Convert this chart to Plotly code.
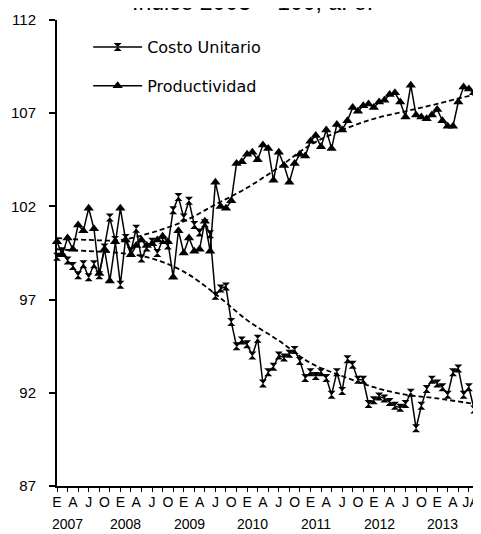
import plotly.graph_objects as go

# ---- data (monthly, Jan 2007 - Aug 2013) ----
productividad = [
    100.1, 99.4, 100.3, 99.7, 101.0, 100.7, 101.9, 100.8, 98.4, 99.7, 98.0, 100.1,
    101.9, 100.2, 99.4, 99.9, 100.2, 99.9, 100.0, 100.2, 100.4, 100.1, 98.2, 100.7,
    99.5, 100.3, 99.6, 99.7, 101.2, 99.6, 103.3, 102.0, 101.9, 102.3, 104.3, 104.4,
    104.8, 104.9, 104.5, 105.3, 105.1, 103.4, 104.9, 104.2, 103.3, 104.3, 104.8, 104.7,
    105.5, 105.8, 105.2, 106.1, 105.1, 106.4, 106.1, 106.6, 107.3, 107.1, 107.4, 107.5,
    107.3, 107.6, 107.7, 108.0, 108.1, 107.6, 106.8, 108.5, 106.9, 106.8, 106.7, 106.9,
    107.2, 106.6, 106.3, 106.3, 107.6, 108.4, 108.3, 108.1,
]
costo_unitario = [
    99.3, 99.6, 99.1, 98.8, 98.3, 98.9, 98.2, 98.9, 98.3, 99.8, 101.4, 100.2,
    97.8, 100.3, 99.6, 100.8, 99.2, 99.8, 100.1, 99.5, 100.2, 99.9, 101.8, 102.5,
    101.4, 102.3, 101.0, 100.6, 101.1, 100.5, 97.2, 97.6, 97.7, 95.8, 94.5, 94.8,
    94.6, 94.0, 94.9, 92.5, 93.1, 93.4, 94.0, 93.9, 94.1, 94.3, 93.7, 92.8,
    93.1, 92.9, 93.1, 92.8, 91.9, 93.1, 92.1, 93.8, 93.5, 92.7, 92.7, 91.4,
    91.6, 91.8, 91.7, 91.5, 91.3, 91.2, 91.4, 92.0, 90.1, 91.3, 92.2, 92.7,
    92.5, 92.3, 91.9, 93.1, 93.3, 91.9, 92.3, 91.1,
]
# trend (dashed) read at selected months
trend_months = [0, 6, 12, 18, 24, 30, 36, 42, 48, 54, 60, 66, 72, 79]
trend_productividad = [100.3, 100.2, 100.2, 100.6, 101.2, 102.1, 103.0, 104.1, 105.3, 106.1, 106.7, 107.1, 107.5, 108.0]
trend_costo = [99.7, 99.6, 99.5, 99.2, 98.5, 97.3, 95.9, 94.8, 93.6, 92.9, 92.3, 91.9, 91.7, 91.4]

# x tick labels (quarters) and years
tick_months = [0, 3, 6, 9, 12, 15, 18, 21, 24, 27, 30, 33, 36, 39, 42, 45,
               48, 51, 54, 57, 60, 63, 66, 69, 72, 75, 77.4, 79]
tick_labels = ["E", "A", "J", "O"] * 6 + ["E", "A", "J", "A"]
years = ["2007", "2008", "2009", "2010", "2011", "2012", "2013"]
year_pos = [2, 13, 25, 37, 49, 61, 73]

y_ticks = [87, 92, 97, 102, 107, 112]

months = list(range(len(productividad)))
FONT = "Liberation Sans, Arial, sans-serif"

fig = go.Figure()
fig.add_trace(go.Scatter(
    x=months, y=costo_unitario, mode="lines+markers", name="Costo Unitario",
    line=dict(color="black", width=1.5),
    marker=dict(symbol="hourglass", size=8, color="black"),
    cliponaxis=False, legendgroup="c",
))
fig.add_trace(go.Scatter(
    x=months, y=productividad, mode="lines+markers", name="Productividad",
    line=dict(color="black", width=1.5),
    marker=dict(symbol="triangle-up", size=9, color="black"),
    cliponaxis=False, legendgroup="p",
))
fig.add_trace(go.Scatter(
    x=trend_months, y=trend_productividad, mode="lines", showlegend=False,
    line=dict(color="black", width=1.8, dash="5px,3px", shape="spline"),
))
fig.add_trace(go.Scatter(
    x=trend_months, y=trend_costo, mode="lines", showlegend=False,
    line=dict(color="black", width=1.8, dash="5px,3px", shape="spline"),
))

annotations = [
    dict(text=y, x=p, y=0, xref="x", yref="paper", yshift=-28,
         showarrow=False, font=dict(size=14, color="black", family=FONT),
         yanchor="top", xanchor="center")
    for y, p in zip(years, year_pos)
]
annotations.append(dict(
    text="Índice 2003 = 100, a. e.", x=(244 - 49) / 424, xref="paper", xanchor="center",
    y=1.0, yref="paper", yshift=3, yanchor="bottom", showarrow=False,
    font=dict(size=23, color="black", family=FONT),
))

# page body has an 8px margin: figure is 8px smaller and shifted accordingly
fig.update_layout(
    width=473, height=526, autosize=False,
    margin=dict(l=49, r=0, t=12, b=48, autoexpand=False),
    paper_bgcolor="white", plot_bgcolor="white",
    font=dict(family=FONT, color="black", size=14),
    showlegend=True,
    legend=dict(x=0.0735, y=0.9785, xanchor="left", yanchor="top",
                font=dict(size=16, family="DejaVu Sans, sans-serif"), tracegroupgap=15,
                itemwidth=49, bgcolor="rgba(0,0,0,0)"),
    annotations=annotations,
    xaxis=dict(range=[0, 80.3], tickvals=tick_months, ticktext=tick_labels,
               tickangle=0, ticks="", ticklabelstandoff=2,
               minor=dict(ticks="outside", ticklen=4, tickwidth=1.2, tickcolor="black",
                          tickvals=list(range(0, 80, 2))),
               showline=True, linecolor="black", linewidth=2,
               showgrid=False, zeroline=False, tickfont=dict(size=14)),
    yaxis=dict(range=[87, 112], tickvals=y_ticks, ticks="outside", ticklen=6,
               tickwidth=1.5, tickcolor="black", showline=True, linecolor="black",
               linewidth=2, showgrid=False, zeroline=False, ticklabelstandoff=10,
               tickfont=dict(size=15)),
)
fig.write_html("out.html")
